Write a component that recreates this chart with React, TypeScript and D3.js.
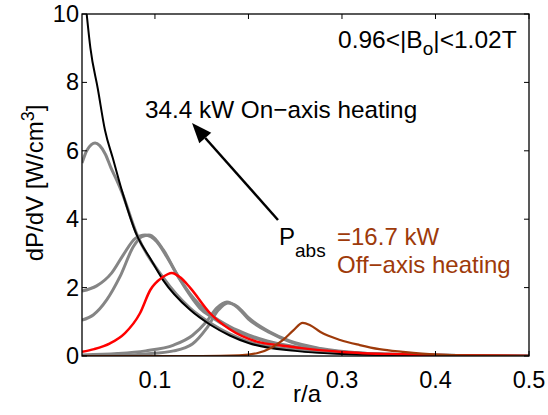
import * as d3 from "d3";
import React from "react";

// r/a positions and dP/dV values
const onAxisR = [0.022, 0.027, 0.031, 0.039, 0.0466, 0.055, 0.0645, 0.0805, 0.095, 0.1087, 0.1375, 0.16, 0.18, 0.2, 0.25, 0.3, 0.4, 0.5];
const onAxisP = [11.4, 10, 9.0, 7.8, 6.6, 5.78, 4.85, 3.54, 2.85, 2.22, 1.35, 0.9, 0.6, 0.38, 0.15, 0.06, 0.01, 0];

const g1R = [0.022, 0.027, 0.032, 0.036, 0.041, 0.047, 0.053, 0.059, 0.0645, 0.08, 0.1087, 0.1375, 0.16, 0.2, 0.25, 0.3, 0.4, 0.5];
const g1P = [5.64, 6.0, 6.18, 6.23, 6.15, 5.9, 5.5, 5.15, 4.8, 3.6, 2.3, 1.4, 0.95, 0.42, 0.18, 0.08, 0.02, 0];

const g2R = [0.022, 0.0377, 0.0538, 0.066, 0.079, 0.0894, 0.102, 0.1126, 0.127, 0.141, 0.148, 0.16, 0.18, 0.2, 0.22, 0.25, 0.3, 0.35, 0.4, 0.5];
const g2P = [1.9, 2.05, 2.43, 2.95, 3.44, 3.54, 3.34, 2.9, 2.22, 1.64, 1.4, 1.15, 0.82, 0.58, 0.42, 0.25, 0.1, 0.05, 0.02, 0];

const g3R = [0.022, 0.034, 0.0484, 0.0626, 0.077, 0.086, 0.0935, 0.109, 0.123, 0.137, 0.148, 0.16, 0.18, 0.2, 0.22, 0.25, 0.3, 0.35, 0.4, 0.5];
const g3P = [1.05, 1.2, 1.64, 2.32, 3.2, 3.49, 3.54, 3.1, 2.42, 1.84, 1.49, 1.2, 0.86, 0.62, 0.44, 0.27, 0.11, 0.05, 0.02, 0];

const g4R = [0.022, 0.06, 0.09, 0.12, 0.14, 0.155, 0.166, 0.177, 0.187, 0.2, 0.223, 0.244, 0.277, 0.32, 0.4, 0.5];
const g4P = [0.03, 0.07, 0.15, 0.32, 0.6, 1.0, 1.4, 1.58, 1.45, 1.08, 0.68, 0.42, 0.2, 0.08, 0.02, 0];

const g5R = [0.022, 0.06, 0.09, 0.12, 0.14, 0.155, 0.168, 0.178, 0.188, 0.2, 0.223, 0.244, 0.277, 0.32, 0.4, 0.5];
const g5P = [0.0, 0.02, 0.06, 0.15, 0.35, 0.8, 1.35, 1.55, 1.45, 1.12, 0.7, 0.44, 0.22, 0.09, 0.02, 0];

const redR = [0.022, 0.035, 0.052, 0.068, 0.084, 0.095, 0.108, 0.118, 0.127, 0.1375, 0.159, 0.18, 0.209, 0.244, 0.257, 0.3, 0.364, 0.42, 0.5];
const redP = [0.12, 0.2, 0.37, 0.67, 1.25, 1.93, 2.3, 2.43, 2.3, 2.0, 1.25, 0.78, 0.42, 0.28, 0.23, 0.12, 0.05, 0.02, 0];

const offAxisR = [0.022, 0.15, 0.19, 0.209, 0.225, 0.237, 0.248, 0.258, 0.266, 0.277, 0.298, 0.319, 0.34, 0.365, 0.4, 0.45, 0.5];
const offAxisP = [0, 0, 0.02, 0.08, 0.25, 0.47, 0.75, 0.97, 0.9, 0.7, 0.47, 0.32, 0.2, 0.12, 0.04, 0.01, 0];

const xTicks = [0.1, 0.2, 0.3, 0.4, 0.5];
const yTicks = [0, 2, 4, 6, 8, 10];

const W = 548;
const H = 415;
const margin = { top: 14, right: 19, bottom: 59, left: 82 };
const GRAY = "#858585";
const BROWN = "#9e3a0a";
const FONT = "'Liberation Sans', Arial, Helvetica, sans-serif";

const App = () => {
  const x = d3.scaleLinear().domain([0.022, 0.5]).range([margin.left, W - margin.right]);
  const y = d3.scaleLinear().domain([0, 10]).range([H - margin.bottom, margin.top]);

  const line = d3
    .line<[number, number]>()
    .x((d) => x(d[0]))
    .y((d) => y(d[1]))
    .curve(d3.curveMonotoneX);

  const path = (rs: number[], ps: number[]) => line(rs.map((r, i) => [r, ps[i]]) as [number, number][]) || "";

  const series = [
    { r: g1R, p: g1P, color: GRAY, w: 3 },
    { r: g2R, p: g2P, color: GRAY, w: 3 },
    { r: g3R, p: g3P, color: GRAY, w: 3 },
    { r: g4R, p: g4P, color: GRAY, w: 3 },
    { r: g5R, p: g5P, color: GRAY, w: 3 },
    { r: onAxisR, p: onAxisP, color: "#000", w: 2 },
    { r: redR, p: redP, color: "#ff0000", w: 2.5 },
    { r: offAxisR, p: offAxisP, color: BROWN, w: 2.2 },
  ];

  const x0 = margin.left;
  const x1 = W - margin.right;
  const y0 = H - margin.bottom;
  const y1 = margin.top;

  // arrow from P_abs label to on-axis text
  const ax0 = 278, ay0 = 220, ax1 = 192, ay1 = 123;
  const ang = Math.atan2(ay1 - ay0, ax1 - ax0);
  const hl = 20, hw = 8;
  const bx = ax1 - hl * Math.cos(ang), by = ay1 - hl * Math.sin(ang);
  const head = [
    [ax1, ay1],
    [bx + hw * Math.sin(ang), by - hw * Math.cos(ang)],
    [bx - hw * Math.sin(ang), by + hw * Math.cos(ang)],
  ].map((p) => p.join(",")).join(" ");

  return (
    <svg width={W} height={H} style={{ position: "absolute", left: 0, top: 0, background: "#fff" }} fontFamily={FONT}>
      <defs>
        <clipPath id="plot">
          <rect x={x0} y={y1} width={x1 - x0} height={y0 - y1} />
        </clipPath>
      </defs>

      <g clipPath="url(#plot)">
        {series.map((s, i) => (
          <path key={i} d={path(s.r, s.p)} fill="none" stroke={s.color} strokeWidth={s.w} strokeLinejoin="round" />
        ))}
      </g>

      {/* axes box and ticks */}
      <rect x={x0} y={y1} width={x1 - x0} height={y0 - y1} fill="none" stroke="#000" strokeWidth={1.3} />
      {xTicks.map((t) => (
        <g key={"x" + t}>
          <line x1={x(t)} x2={x(t)} y1={y0} y2={y0 - 5} stroke="#000" strokeWidth={1} />
          <line x1={x(t)} x2={x(t)} y1={y1} y2={y1 + 5} stroke="#000" strokeWidth={1} />
          <text x={x(t)} y={y0 + 32} textAnchor="middle" fontSize={23.5}>
            {t}
          </text>
        </g>
      ))}
      {yTicks.map((t) => (
        <g key={"y" + t}>
          <line x1={x0} x2={x0 + 5} y1={y(t)} y2={y(t)} stroke="#000" strokeWidth={1} />
          <line x1={x1} x2={x1 - 5} y1={y(t)} y2={y(t)} stroke="#000" strokeWidth={1} />
          <text x={x0 - 3} y={y(t) + 8} textAnchor="end" fontSize={23.5}>
            {t}
          </text>
        </g>
      ))}

      <text x={307} y={402} textAnchor="middle" fontSize={24}>
        r/a
      </text>
      <text transform={`translate(43,183) rotate(-90)`} textAnchor="middle" fontSize={24}>
        dP/dV [W/cm<tspan dy={-9} fontSize={18}>3</tspan>
        <tspan dy={9}>]</tspan>
      </text>

      <text x={338} y={48} fontSize={24.5}>
        0.96&lt;|B<tspan dy={7} fontSize={19}>o</tspan>
        <tspan dy={-7}>|&lt;1.02T</tspan>
      </text>

      <text x={145} y={118} fontSize={24.3}>
        34.4 kW On−axis heating
      </text>

      <line x1={ax0} y1={ay0} x2={bx} y2={by} stroke="#000" strokeWidth={2.5} />
      <polygon points={head} fill="#000" />

      <text x={279} y={245} fontSize={24}>
        P<tspan dy={12} fontSize={19}>abs</tspan>
      </text>
      <text x={337} y={245} fontSize={24} fill={BROWN}>
        =16.7 kW
      </text>
      <text x={337} y={273} fontSize={24} fill={BROWN}>
        Off−axis heating
      </text>
    </svg>
  );
};

export default App;
